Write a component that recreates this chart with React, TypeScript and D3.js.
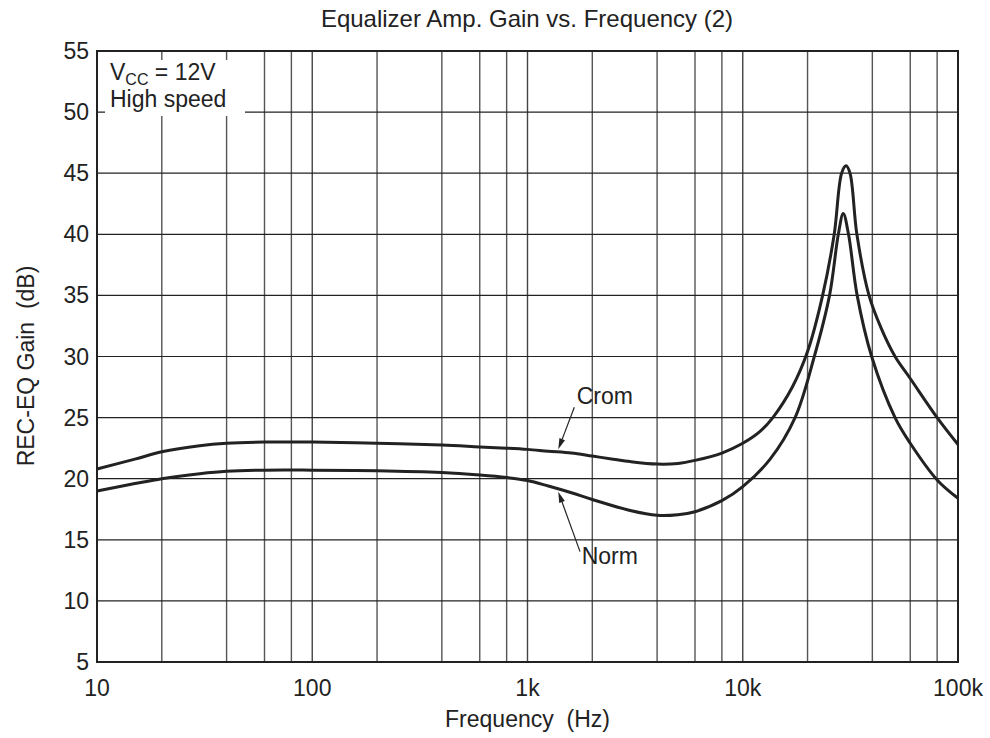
import React from "react";
import * as d3 from "d3";

const titleText = "Equalizer Amp. Gain vs. Frequency (2)";
const xLabel = "Frequency  (Hz)";
const yLabel = "REC-EQ Gain  (dB)";

const xTickValues = [10, 100, 1000, 10000, 100000];
const xTickLabels = ["10", "100", "1k", "10k", "100k"];
const xMinorGrid = [2, 4, 6, 8];
const yTickValues = [5, 10, 15, 20, 25, 30, 35, 40, 45, 50, 55];

const cromFreq = [10, 15, 20, 30, 40, 60, 100, 200, 400, 600, 800, 1000, 1250, 1600, 2000, 2500, 3000, 4000, 5000, 6000, 8000, 10000, 12000, 13800, 17000, 20000, 23500, 26600, 28800, 30200, 31500, 33900, 38600, 44000, 51000, 60000, 80000, 100000];
const cromGain = [20.8, 21.6, 22.2, 22.7, 22.9, 23.0, 23.0, 22.9, 22.75, 22.6, 22.5, 22.4, 22.25, 22.1, 21.85, 21.6, 21.4, 21.2, 21.25, 21.5, 22.1, 22.9, 23.85, 25.0, 27.5, 30.4, 35.0, 40.0, 45.0, 45.6, 45.0, 40.0, 35.0, 32.3, 30.0, 28.2, 25.0, 22.8];

const normFreq = [10, 15, 20, 30, 40, 60, 100, 200, 400, 600, 800, 1000, 1250, 1600, 2000, 3000, 4000, 5000, 6000, 8000, 10000, 13400, 17500, 21500, 25300, 27800, 29300, 31000, 34000, 39700, 51000, 60000, 80000, 100000];
const normGain = [19.0, 19.6, 20.0, 20.4, 20.6, 20.7, 20.7, 20.65, 20.5, 20.3, 20.1, 19.85, 19.4, 18.85, 18.3, 17.4, 17.0, 17.05, 17.3, 18.2, 19.35, 21.6, 25.0, 30.0, 35.0, 40.0, 41.7, 40.0, 35.0, 30.0, 25.0, 22.9, 19.9, 18.4];

// annotations in data coordinates
const cromNote = { label: "Crom", textF: 1693, textG: 26.1, fromF: 1650, fromG: 25.84, toF: 1390, toG: 22.4 };
const normNote = { label: "Norm", textF: 1786, textG: 13.0, fromF: 1754, fromG: 14.03, toF: 1390, toG: 18.94 };

const W = 990;
const H = 738;
const left = 97;
const right = 958;
const top = 51;
const bottom = 662;
const FONT = "'Liberation Sans', Arial, Helvetica, sans-serif";
const INK = "#222";

export default function App() {
  const x = d3.scaleLog().domain([10, 100000]).range([left, right]);
  const y = d3.scaleLinear().domain([5, 55]).range([bottom, top]);

  const line = d3
    .line<[number, number]>()
    .x((d) => x(d[0]))
    .y((d) => y(d[1]))
    .curve(d3.curveCatmullRom.alpha(0.5));

  const cromPath = line(cromFreq.map((f, i) => [f, cromGain[i]] as [number, number])) || "";
  const normPath = line(normFreq.map((f, i) => [f, normGain[i]] as [number, number])) || "";

  const minorLines: number[] = [];
  for (let dec = 10; dec < 100000; dec *= 10) {
    xMinorGrid.forEach((m) => minorLines.push(dec * m));
  }

  const arrow = (n: typeof cromNote, key: string) => {
    const x1 = x(n.fromF), y1 = y(n.fromG), x2 = x(n.toF), y2 = y(n.toG);
    const ang = Math.atan2(y2 - y1, x2 - x1);
    const len = 11, half = 3;
    const bx = x2 - len * Math.cos(ang), by = y2 - len * Math.sin(ang);
    const px = -Math.sin(ang) * half, py = Math.cos(ang) * half;
    return (
      <g key={key}>
        <line x1={x1} y1={y1} x2={bx} y2={by} stroke={INK} strokeWidth={1.2} />
        <polygon points={`${x2},${y2} ${bx + px},${by + py} ${bx - px},${by - py}`} fill={INK} />
        <text x={x(n.textF)} y={y(n.textG)} fontSize={23} fill={INK} fontFamily={FONT}>{n.label}</text>
      </g>
    );
  };

  return (
    <svg width={W} height={H} style={{ position: "absolute", left: 0, top: 0, background: "#fff" }}>
      <rect x={0} y={0} width={W} height={H} fill="#fff" />
      <text x={527} y={27} textAnchor="middle" fontSize={24} fill={INK} fontFamily={FONT}>{titleText}</text>

      {/* vertical grid */}
      {minorLines.map((f) => (
        <line key={"m" + f} x1={x(f)} x2={x(f)} y1={top} y2={bottom} stroke="#555" strokeWidth={1.4} />
      ))}
      {xTickValues.slice(1, -1).map((f) => (
        <line key={"M" + f} x1={x(f)} x2={x(f)} y1={top} y2={bottom} stroke="#444" strokeWidth={1.4} />
      ))}
      {/* horizontal grid */}
      {yTickValues.slice(1, -1).map((v) => (
        <line key={"h" + v} x1={left} x2={right} y1={y(v)} y2={y(v)} stroke={INK} strokeWidth={1.2} />
      ))}

      {/* legend box */}
      <rect x={105} y={60} width={140} height={56} fill="#fff" />
      <text x={110} y={80} fontSize={23} fill={INK} fontFamily={FONT}>
        V<tspan fontSize={16} dy={5}>CC</tspan><tspan dy={-5}> = 12V</tspan>
      </text>
      <text x={110} y={107} fontSize={23} fill={INK} fontFamily={FONT}>High speed</text>

      {/* curves */}
      <path d={cromPath} fill="none" stroke={INK} strokeWidth={3} strokeLinejoin="round" />
      <path d={normPath} fill="none" stroke={INK} strokeWidth={3} strokeLinejoin="round" />

      {arrow(cromNote, "crom")}
      {arrow(normNote, "norm")}

      {/* frame */}
      <rect x={left} y={top} width={right - left} height={bottom - top} fill="none" stroke={INK} strokeWidth={2} />

      {/* y tick labels */}
      {yTickValues.map((v) => (
        <text key={"yl" + v} x={left - 8} y={y(v) + 8} textAnchor="end" fontSize={23} fill={INK} fontFamily={FONT}>{v}</text>
      ))}
      {/* x tick labels */}
      {xTickValues.map((f, i) => (
        <text key={"xl" + f} x={x(f)} y={696} textAnchor="middle" fontSize={23} fill={INK} fontFamily={FONT}>{xTickLabels[i]}</text>
      ))}

      <text x={(left + right) / 2} y={727} textAnchor="middle" fontSize={23} fill={INK} fontFamily={FONT} style={{ whiteSpace: "pre" }}>{xLabel}</text>
      <text transform={`translate(34, ${366}) rotate(-90)`} textAnchor="middle" fontSize={23} fill={INK} fontFamily={FONT} style={{ whiteSpace: "pre" }}>{yLabel}</text>
    </svg>
  );
}
